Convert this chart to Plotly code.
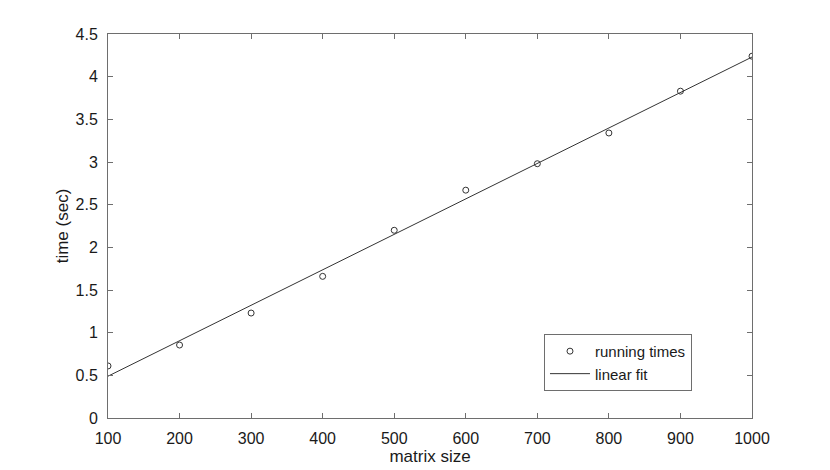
import plotly.graph_objects as go

matrix_size = [100, 200, 300, 400, 500, 600, 700, 800, 900, 1000]
running_times = [0.61, 0.855, 1.23, 1.66, 2.20, 2.67, 2.98, 3.34, 3.83, 4.24]
fit_x = [100, 1000]
fit_y = [0.49, 4.23]
x_ticks = [100, 200, 300, 400, 500, 600, 700, 800, 900, 1000]
y_ticks = [0, 0.5, 1, 1.5, 2, 2.5, 3, 3.5, 4, 4.5]

FONT = "Liberation Sans, Arial, Helvetica, sans-serif"
AX = "#6e6e6e"
TXT = "#1a1a1a"

fig = go.Figure()
fig.add_trace(go.Scatter(
    x=matrix_size, y=running_times, mode="markers", name="running times",
    marker=dict(symbol="circle-open", size=6, color="#333333", line=dict(width=1, color="#333333")),
))
fig.add_trace(go.Scatter(
    x=fit_x, y=fit_y, mode="lines", name="linear fit",
    line=dict(color="#333333", width=1),
))

axis_common = dict(
    showgrid=False, zeroline=False, showline=True, linecolor=AX, linewidth=1,
    mirror="ticks", ticks="inside", ticklen=5, tickcolor=AX, tickwidth=1,
    tickfont=dict(family=FONT, size=16, color=TXT),
)
fig.update_xaxes(range=[100, 1000], tickvals=x_ticks, ticktext=[str(v) for v in x_ticks],
                 ticklabelstandoff=6,
                 title=dict(text="matrix size", font=dict(family=FONT, size=17, color=TXT), standoff=2),
                 **axis_common)
fig.update_yaxes(range=[0, 4.5], tickvals=y_ticks, ticktext=[f"{v:g}" for v in y_ticks],
                 ticklabelstandoff=6,
                 title=dict(text="time (sec)", font=dict(family=FONT, size=17, color=TXT), standoff=2),
                 **axis_common)

fig.update_layout(
    width=830, height=470,
    margin=dict(l=100, r=86, t=26, b=60, autoexpand=False),
    paper_bgcolor="white", plot_bgcolor="white",
    font=dict(family=FONT, size=16, color=TXT),
    legend=dict(x=0.677, y=0.219, xanchor="left", yanchor="top",
                bgcolor="white", bordercolor=AX, borderwidth=1,
                font=dict(family=FONT, size=15, color=TXT),
                itemwidth=40, tracegroupgap=0),
)

fig.write_html("out.html")
